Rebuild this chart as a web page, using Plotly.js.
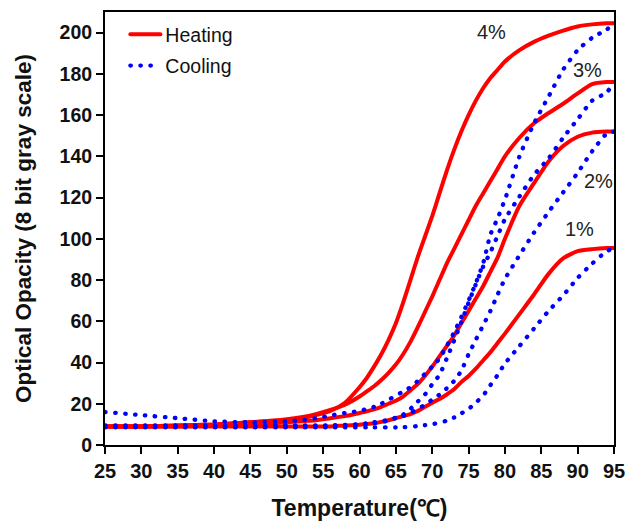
<!DOCTYPE html>
<html>
<head>
<meta charset="utf-8">
<script src="https://cdn.plot.ly/plotly-3.0.1.min.js"></script>
<style>
html, body { margin: 0; padding: 0; background: #fff; }
#chart { width: 625px; height: 523px; }
.scatterlayer path.js-line, .legendlines path { stroke-linecap: round !important; }
</style>
</head>
<body>
<div id="chart"></div>
<script>
// Temperature (°C)
var temps = [25, 30, 35, 40, 45, 50, 52, 54, 56, 58, 60, 61, 62, 63, 64, 65, 66, 67, 68, 69, 70,
             71, 72, 73, 74, 75, 76, 77, 78, 79, 80, 82, 84, 86, 88, 90, 92, 94, 95];

// Heating curves (optical opacity, 8 bit gray scale)
var heat4 = [9, 9, 9.5, 10, 11, 12, 13, 14.5, 16.5, 20.5, 28, 32.5, 38, 44, 51, 59, 69, 80, 91, 101, 111,
             122, 133, 143, 152, 160, 167, 173, 178, 182, 186, 191.5, 195.5, 198.5, 201, 203, 204, 204.5, 204.5];
var heat3 = [9, 9, 9.5, 10, 11, 12.5, 13.5, 15, 17, 19.5, 23.5, 26, 28.5, 31.5, 35, 39, 44, 50, 57, 64.5, 72,
             80, 88, 95, 102, 109, 116, 122, 128, 134, 140, 149, 156, 161, 165.5, 170.5, 175, 176, 176];
var heat2 = [9, 9, 9, 9.5, 10, 11, 11.5, 12, 13, 14, 15.5, 16.3, 17.3, 18.5, 20, 21.5, 23.5, 26.5, 29.5, 33.5, 38,
             43, 48, 53, 59, 65, 71, 77, 84, 91, 100, 116, 127, 137.5, 145, 149.5, 151.5, 152, 152];
var heat1 = [9, 9, 9, 9, 9, 9, 9, 9, 9, 9.5, 9.8, 10.2, 10.5, 11.2, 12, 13, 14, 15, 16.5, 18.5, 20.5,
             22.3, 24.5, 27, 30.5, 33.5, 37, 41, 45, 49.5, 54, 63.5, 73, 83, 90.5, 94, 95, 95.5, 95.5];

// Cooling curves
var cool4 = [16, 14.5, 13, 11.5, 11, 11.5, 12, 13, 14.3, 15.5, 16.5, 17.5, 18.5, 20, 22, 23.8, 26, 28, 31, 34.5, 38,
             42, 48, 54.5, 62, 70, 78.5, 88, 102, 110, 119, 140, 156, 169, 182, 191.5, 197.5, 201.5, 204.5];
var cool3 = [9.5, 9.5, 9.5, 9.5, 9.5, 9.5, 9.5, 9.5, 9.5, 9.8, 10, 10.3, 10.5, 11, 12, 13.3, 14.7, 17.5, 21, 24.5, 29.5,
             34, 42, 50.5, 59.5, 69, 78, 86.5, 93.5, 101.5, 109.5, 120.5, 131, 139, 149, 158, 167, 171, 176];
var cool2 = [9, 9, 9, 9, 9, 9, 9, 9, 9, 9.5, 10, 10.5, 11, 11.5, 12.2, 13, 14, 15.5, 17.5, 19.5, 22,
             24.5, 27.5, 31, 36, 44, 51, 58, 65, 73, 80.5, 92, 103, 113, 122.5, 132, 142.5, 151, 152];
var cool1 = [8.5, 8.5, 8.5, 8.5, 8.5, 8.5, 8.5, 8.5, 8.5, 8.5, 8.5, 8.5, 8.5, 8.5, 8.5, 8.5, 8.6, 8.8, 9.2, 9.6, 10.1,
             10.8, 11.8, 13.3, 15.3, 17.5, 20.5, 24, 29, 34, 39.5, 48, 56.5, 65, 72.5, 81, 88, 94, 95.5];

// Concentration labels
var concLabels = ['4%', '3%', '2%', '1%'];
var labelX = [78.2, 91.3, 92.8, 90.2];
var labelY = [200.5, 182, 128, 105];

var xTicks = [25, 30, 35, 40, 45, 50, 55, 60, 65, 70, 75, 80, 85, 90, 95];
var yTicks = [0, 20, 40, 60, 80, 100, 120, 140, 160, 180, 200];

var FONT = 'Liberation Sans, Arial, sans-serif';
var RED = '#ff0000', BLUE = '#0000ff';

var heatSets = [heat4, heat3, heat2, heat1];
var coolSets = [cool4, cool3, cool2, cool1];
var traces = [];
heatSets.forEach(function (ys, i) {
  traces.push({
    x: temps, y: ys, type: 'scatter', mode: 'lines',
    name: 'Heating', legendgroup: 'heat', showlegend: i === 0,
    line: { color: RED, width: 4, shape: 'spline', smoothing: 0.6 },
    hoverinfo: 'skip'
  });
});
coolSets.forEach(function (ys, i) {
  traces.push({
    x: temps, y: ys, type: 'scatter', mode: 'lines',
    name: 'Cooling', legendgroup: 'cool', showlegend: i === 0,
    line: { color: BLUE, width: 4.3, dash: '0.5px,9.5px', shape: 'spline', smoothing: 0.6 },
    hoverinfo: 'skip'
  });
});

var annotations = concLabels.map(function (t, i) {
  return {
    x: labelX[i], y: labelY[i], xref: 'x', yref: 'y', text: t, showarrow: false,
    font: { family: FONT, size: 20, color: '#222' }
  };
});

var layout = {
  width: 625, height: 523,
  margin: { l: 105, r: 11, t: 12, b: 78 },
  paper_bgcolor: '#fff', plot_bgcolor: '#fff',
  showlegend: true,
  legend: {
    x: 0.04, y: 0.993, xanchor: 'left', yanchor: 'top',
    bgcolor: 'rgba(0,0,0,0)', borderwidth: 0,
    font: { family: FONT, size: 19.5, color: '#111' },
    tracegroupgap: 3, traceorder: 'grouped'
  },
  xaxis: {
    range: [25, 95], tickvals: xTicks, ticktext: xTicks.map(String),
    showline: true, linecolor: '#000', linewidth: 2, mirror: true,
    ticks: 'outside', ticklen: 7, tickwidth: 2, tickcolor: '#000',
    showgrid: false, zeroline: false, ticklabeloverflow: 'allow',
    tickfont: { family: FONT, size: 20, color: '#111', weight: 'bold' },
    title: { text: 'Temperature(℃)', font: { family: FONT, size: 23, color: '#111', weight: 'bold' }, standoff: 19 }
  },
  yaxis: {
    range: [0, 210], tickvals: yTicks, ticktext: yTicks.map(String),
    showline: true, linecolor: '#000', linewidth: 2, mirror: true,
    ticks: 'outside', ticklen: 7, tickwidth: 2, tickcolor: '#000',
    showgrid: false, zeroline: false, ticklabeloverflow: 'allow',
    tickfont: { family: FONT, size: 19.5, color: '#111', weight: 'bold' },
    title: { text: 'Optical Opacity (8 bit gray scale)', font: { family: FONT, size: 22.5, color: '#111', weight: 'bold' }, standoff: 22 }
  },
  annotations: annotations
};

Plotly.newPlot('chart', traces, layout, { staticPlot: true, displayModeBar: false });
</script>
</body>
</html>
